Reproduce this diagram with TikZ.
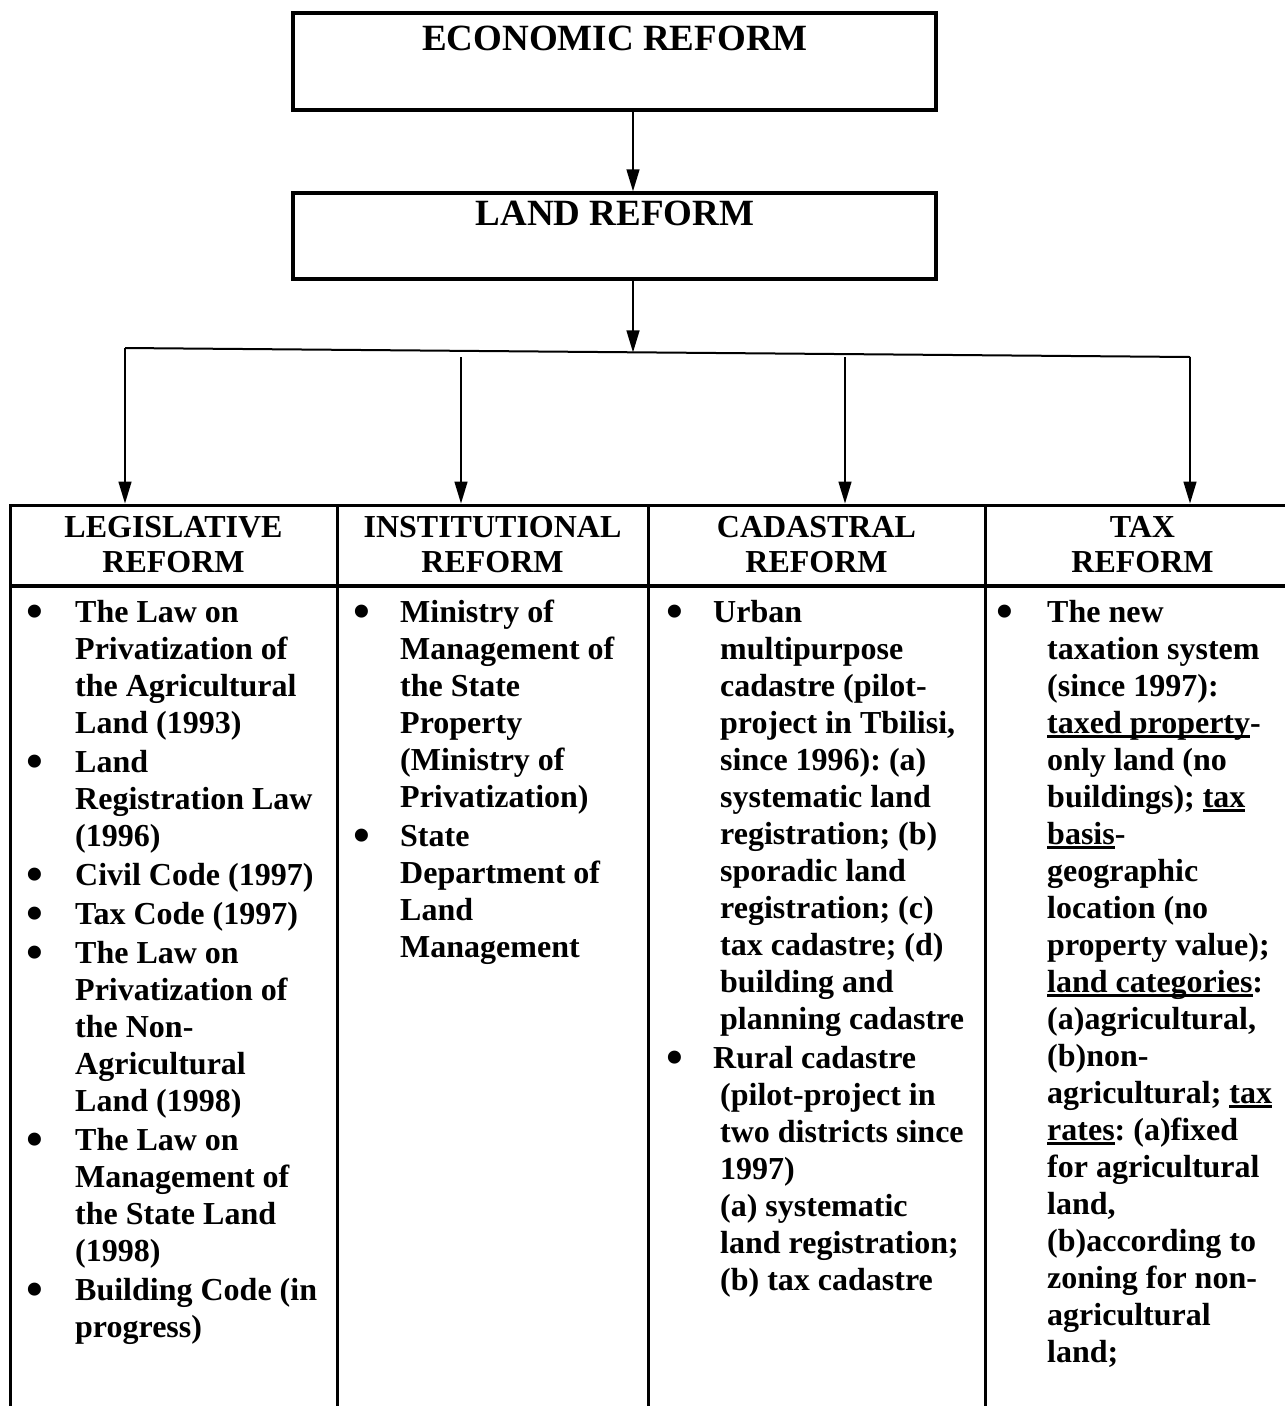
\documentclass[tikz,border=0pt]{standalone}
\usepackage{fontspec}
\setmainfont{Liberation Serif}
\usetikzlibrary{arrows.meta}
\frenchspacing

% underlined words in the tax column
\newcommand{\ulin}[1]{\leavevmode\setbox0\hbox{#1}\rlap{\rule[-4.5pt]{\wd0}{2.5pt}}\box0}
\newcommand{\bul}{\hspace*{-2pt}\smash{\raisebox{-5.5pt}{\scalebox{1.5}{\textbullet}}}}

\begin{document}
\begin{tikzpicture}[x=1pt, y=-1pt,
    reformbox/.style={draw, line width=3.5pt, minimum width=643pt, inner sep=0pt},
    titletext/.style={anchor=base, inner sep=0pt, font=\fontsize{37}{42}\selectfont\bfseries},
    headcell/.style={draw, line width=3pt, minimum height=80pt, inner sep=0pt,
      align=center, font=\fontsize{32}{35}\selectfont\bfseries},
    bodycell/.style={draw, line width=3pt, minimum height=840pt, anchor=north, inner sep=0pt},
    itemtext/.style={anchor=north west, inner sep=0pt, font=\fontsize{32}{37}\selectfont\bfseries},
    flow/.style={line width=1.5pt, -{Triangle[length=22pt, width=13pt]}}
  ]
  \useasboundingbox (0,0) rectangle (1285,1406);

  % 1) The two boxes on top
  \node[reformbox, minimum height=97pt] (econ) at (614.5,61.5) {};
  \node[titletext] (econTxt) at (615,50) {ECONOMIC REFORM};
  \node[reformbox, minimum height=86pt] (land) at (614.5,236) {};
  \node[titletext] (landTxt) at (615,225) {LAND REFORM};

  % 2) Header row of the table
  \node[headcell, minimum width=327pt] (hLeg)  at (173.5,545) {LEGISLATIVE\\REFORM};
  \node[headcell, minimum width=311pt] (hInst) at (492.5,545) {INSTITUTIONAL\\REFORM};
  \node[headcell, minimum width=337pt] (hCad)  at (816.5,545) {CADASTRAL\\REFORM};
  \node[headcell, minimum width=315pt] (hTax)  at (1142.5,545) {TAX\\REFORM};

  % 3) Body cells (run past the bottom edge)
  \node[bodycell, minimum width=327pt] (bLeg)  at (173.5,585) {};
  \node[bodycell, minimum width=311pt] (bInst) at (492.5,585) {};
  \node[bodycell, minimum width=337pt] (bCad)  at (816.5,585) {};
  \node[bodycell, minimum width=315pt] (bTax)  at (1142.5,585) {};

  % 4) Connectors
  \coordinate (spine) at (633,0);
  \coordinate (brLeg) at (125,348);
  \coordinate (brInst) at (461,357);
  \coordinate (brCad) at (845,357);
  \coordinate (brTax) at (1190,357);
  \coordinate (brMid) at (633,352.3);

  \draw[flow] (econ.south -| spine) -- (land.north -| spine);
  \draw[flow] (land.south -| spine) -- (brMid);
  \draw[line width=2pt] (brLeg) -- (brTax);
  \foreach \b/\h in {brLeg/hLeg, brInst/hInst, brCad/hCad, brTax/hTax}
    \draw[flow] (\b) -- (\h.north -| \b);

  % 5) Column contents
  \node[itemtext] (legList) at (28,596) {%
    \begin{tabular}{@{}p{47pt}@{}l@{}}
    \bul & The Law on\\
         & Privatization of\\
         & the Agricultural\\
         & Land (1993)\\[2pt]
    \bul & Land\\
         & Registration Law\\
         & (1996)\\[2pt]
    \bul & Civil Code (1997)\\[2pt]
    \bul & Tax Code (1997)\\[2pt]
    \bul & The Law on\\
         & Privatization of\\
         & the Non-\\
         & Agricultural\\
         & Land (1998)\\[2pt]
    \bul & The Law on\\
         & Management of\\
         & the State Land\\
         & (1998)\\[2pt]
    \bul & Building Code (in\\
         & progress)
    \end{tabular}};

  \node[itemtext] (instList) at (355,596) {%
    \begin{tabular}{@{}p{45pt}@{}l@{}}
    \bul & Ministry of\\
         & Management of\\
         & the State\\
         & Property\\
         & (Ministry of\\
         & Privatization)\\[2pt]
    \bul & State\\
         & Department of\\
         & Land\\
         & Management
    \end{tabular}};

  \node[itemtext] (cadList) at (668,596) {%
    \begin{tabular}{@{}p{52pt}@{}l@{}}
    \bul & \hspace*{-7pt}Urban\\
         & multipurpose\\
         & cadastre (pilot-\\
         & project in Tbilisi,\\
         & since 1996): (a)\\
         & systematic land\\
         & registration; (b)\\
         & sporadic land\\
         & registration; (c)\\
         & tax cadastre; (d)\\
         & building and\\
         & planning cadastre\\[2pt]
    \bul & \hspace*{-7pt}Rural cadastre\\
         & (pilot-project in\\
         & two districts since\\
         & 1997)\\
         & (a) systematic\\
         & land registration;\\
         & (b) tax cadastre
    \end{tabular}};

  \node[itemtext] (taxList) at (998,596) {%
    \begin{tabular}{@{}p{49pt}@{}l@{}}
    \bul & The new\\
         & taxation system\\
         & (since 1997):\\
         & \ulin{taxed property}-\\
         & only land (no\\
         & buildings); \ulin{tax}\\
         & \ulin{basis}-\\
         & geographic\\
         & location (no\\
         & property value);\\
         & \ulin{land categories}:\\
         & (a)agricultural,\\
         & (b)non-\\
         & agricultural; \ulin{tax}\\
         & \ulin{rates}: (a)fixed\\
         & for agricultural\\
         & land,\\
         & (b)according to\\
         & zoning for non-\\
         & agricultural\\
         & land;
    \end{tabular}};
\end{tikzpicture}
\end{document}
